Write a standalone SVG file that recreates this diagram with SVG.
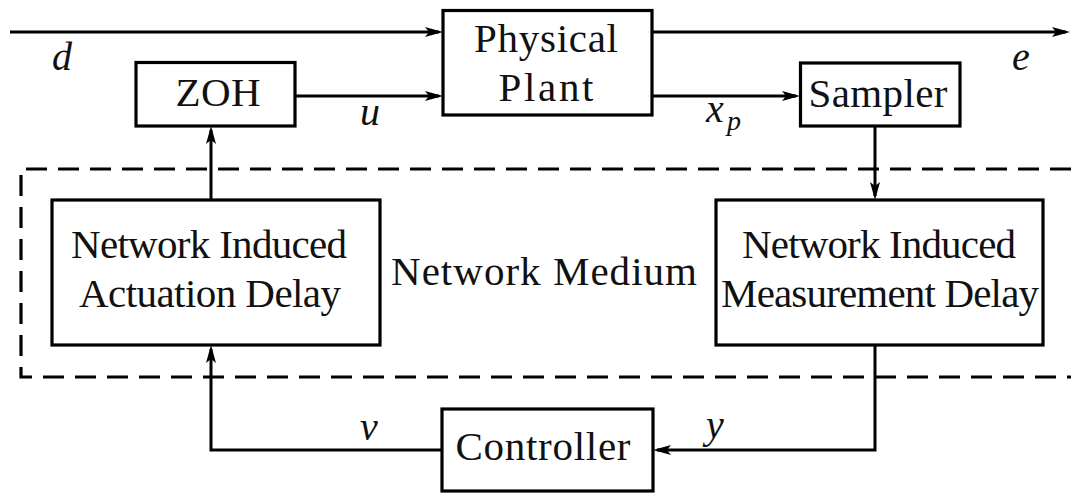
<svg xmlns="http://www.w3.org/2000/svg" width="1071" height="493" viewBox="0 0 1071 493">
  <style>
    .box { fill: #fff; stroke: #000; stroke-width: 3.2; }
    .lbl { font-family: 'Liberation Serif', 'Times New Roman', serif; font-size: 41px; fill: #111; text-anchor: middle; }
    .var { font-family: 'Liberation Serif', 'Times New Roman', serif; font-style: italic; font-size: 40px; fill: #111; }
    .sub { font-family: 'Liberation Serif', 'Times New Roman', serif; font-style: italic; font-size: 28px; fill: #111; }
    .wire { fill: none; stroke: #000; stroke-width: 3; marker-end: url(#ah); }
    .dash { fill: none; stroke: #000; stroke-width: 3.2; stroke-dasharray: 21 11; }
  </style>
  <defs>
    <marker id="ah" markerWidth="18" markerHeight="10" refX="14" refY="5" orient="auto" markerUnits="userSpaceOnUse">
      <path d="M0,0 L18,5 L0,10 L4,5 z" fill="#000"/>
    </marker>
  </defs>

  <g id="network-medium">
    <path class="dash" d="M1071,169 H21 V377 H1071"/>
    <text class="lbl" x="544" y="285" textLength="306">Network Medium</text>
  </g>

  <g id="connectors">
    <path class="wire" d="M10,32 H439"/>
    <path class="wire" d="M652,32 H1066"/>
    <path class="wire" d="M295,96 H439"/>
    <path class="wire" d="M652,96 H796"/>
    <path class="wire" d="M211,200 V130"/>
    <path class="wire" d="M875,126 V196"/>
    <path class="wire" d="M875,345 V450 H657"/>
    <path class="wire" d="M442,450 H211 V349"/>
  </g>

  <g id="plant">
    <rect class="box" x="443" y="10.5" width="209" height="104.5"/>
    <text class="lbl" x="546" y="52" textLength="144">Physical</text>
    <text class="lbl" x="546" y="101" textLength="95">Plant</text>
  </g>

  <g id="zoh">
    <rect class="box" x="136" y="62.5" width="159" height="63.5"/>
    <text class="lbl" x="218" y="106" textLength="85">ZOH</text>
  </g>

  <g id="sampler">
    <rect class="box" x="800.5" y="63" width="159.5" height="63"/>
    <text class="lbl" x="878" y="107" textLength="139">Sampler</text>
  </g>

  <g id="actuation-delay">
    <rect class="box" x="52" y="200" width="328" height="145"/>
    <text class="lbl" x="209" y="258" textLength="276">Network Induced</text>
    <text class="lbl" x="210" y="307" textLength="262">Actuation Delay</text>
  </g>

  <g id="measurement-delay">
    <rect class="box" x="716" y="200" width="327" height="145"/>
    <text class="lbl" x="879" y="258" textLength="274">Network Induced</text>
    <text class="lbl" x="880" y="307" textLength="318">Measurement Delay</text>
  </g>

  <g id="controller">
    <rect class="box" x="442" y="409" width="211" height="82"/>
    <text class="lbl" x="543" y="460" textLength="175">Controller</text>
  </g>

  <g id="labels">
    <text class="var" x="52" y="70">d</text>
    <text class="var" x="1012" y="70">e</text>
    <text class="var" x="360" y="125">u</text>
    <text class="var" x="706" y="122">x</text>
    <text class="sub" x="727" y="130">p</text>
    <text class="var" x="360" y="440">v</text>
    <text class="var" x="706" y="438">y</text>
  </g>
</svg>
